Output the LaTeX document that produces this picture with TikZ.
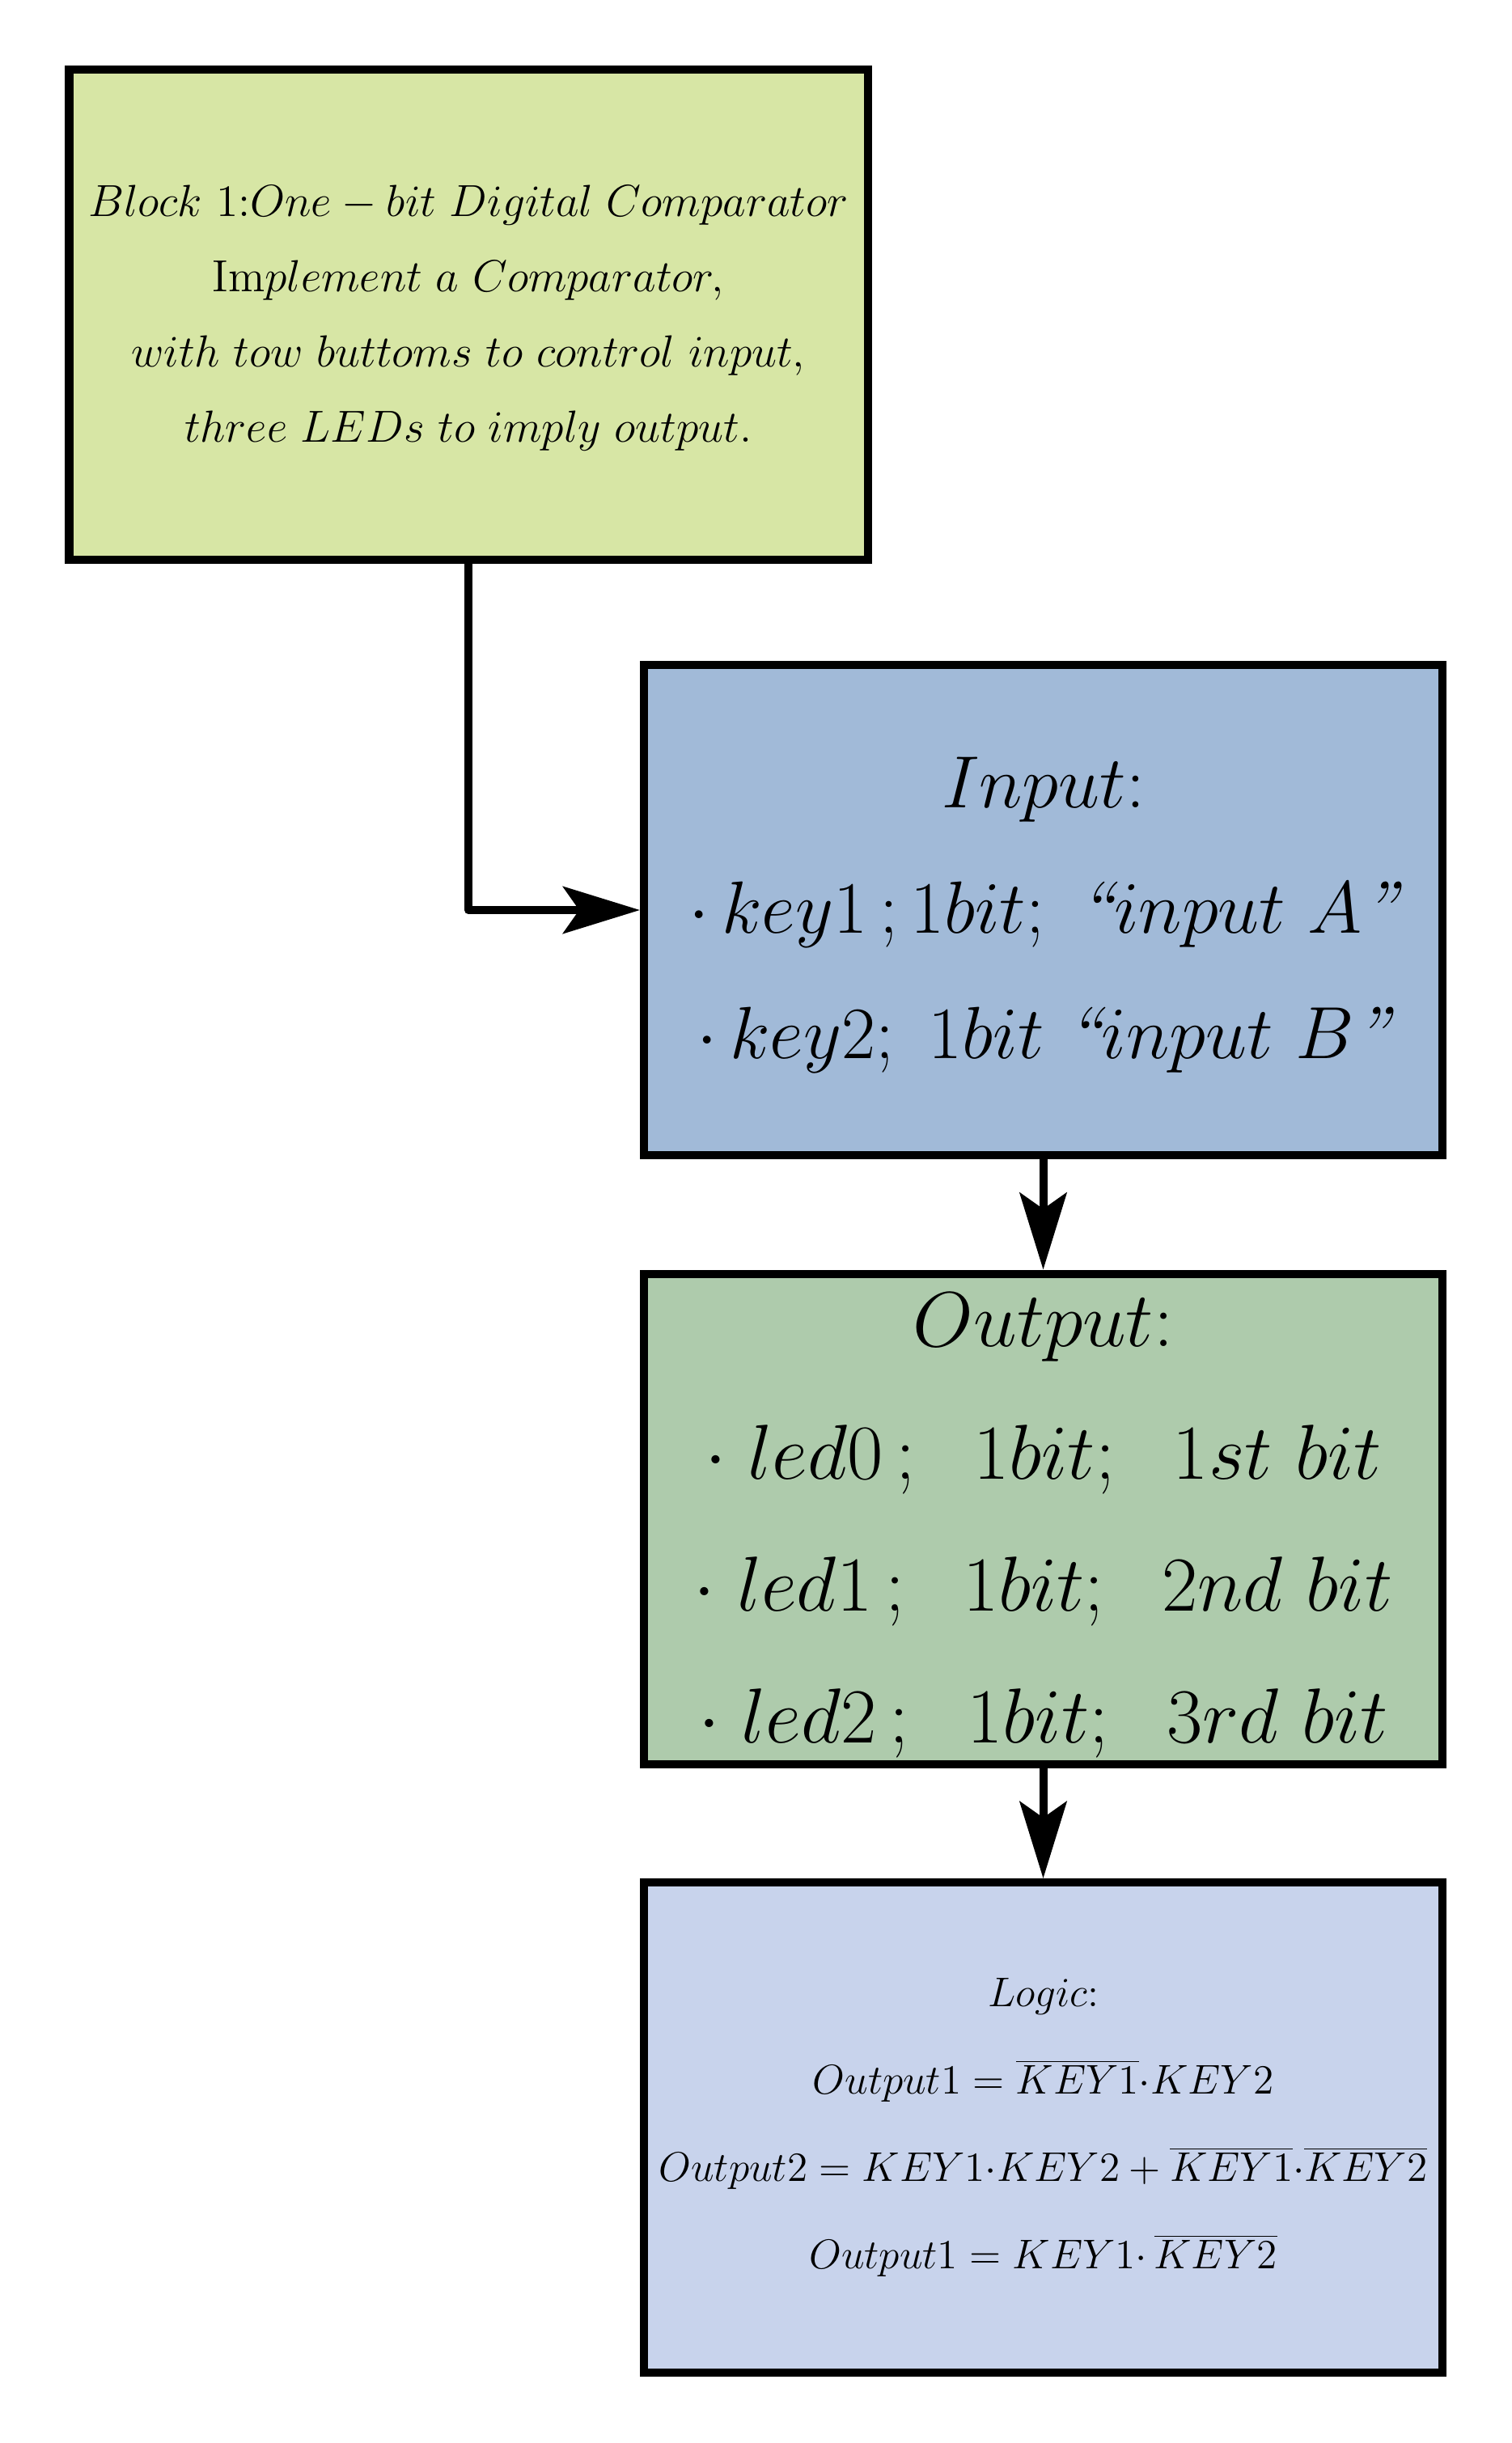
\RequirePackage{fix-cm}
\documentclass[tikz,border=0pt]{standalone}
\usetikzlibrary{positioning,arrows.meta}
\definecolor{blockgreen}{RGB}{215,230,165}
\definecolor{inblue}{RGB}{161,186,216}
\definecolor{outgreen}{RGB}{174,203,172}
\definecolor{logicblue}{RGB}{200,211,236}
\tikzset{
 box/.style={draw,line width=2.85pt,rectangle,minimum width=9.87cm,minimum height=6.06cm,align=center,inner sep=0pt},
 line/.style={line width=2.85pt,line join=round,-{Stealth[length=9.5mm,width=5.8mm,inset=2mm]}}
}
\begin{document}
\begin{tikzpicture}
 \useasboundingbox (0,0) rectangle (18.68,-30.20);
 \node[box,fill=blockgreen,font=\fontsize{15.8}{26.5}\selectfont](block) at (5.79,-3.89)
  {\rule{0pt}{13.3pt}$Block\ 1{:}One-bit\ Digital\ Comparator$\\
   $\mathrm{Im}plement\ a\ Comparator,$\\
   $with\ tow\ buttoms\ to\ control\ input,$\\
   $three\ LEDs\ to\ imply\ output.$};
 \node[box,fill=inblue,font=\fontsize{26}{44}\selectfont](input) at (12.895,-11.25)
  {\rule{0pt}{21.2pt}$Input{:}$\\
   $\cdot\, key1\,;1bit;\ \textit{``}input\ A\mbox{\itshape''}$\\
   $\cdot\, key2;\ 1bit\ \textit{``}input\ B\mbox{\itshape''}$};
 \node[box,fill=outgreen,font=\fontsize{27.4}{46.5}\selectfont,below=1.365cm of input](output)
  {\rule{0pt}{23.7pt}$Output{:}$\\
   $\cdot\;led0\,;\ \;1bit;\ \;1st\ bit$\\
   $\cdot\;led1\,;\ \;1bit;\ \;2nd\ bit$\\
   $\cdot\;led2\,;\ \;1bit;\ \;3rd\ bit$};
 \node[box,fill=logicblue,font=\fontsize{14.6}{30.7}\selectfont,below=1.365cm of output](logic)
  {$Logic{:}$\\
   $Output1=\overline{KEY1}{\cdot}KEY2$\\
   $Output2=KEY1{\cdot}KEY2+\overline{KEY1}{\cdot}\overline{KEY2}$\\
   $Output1=KEY1{\cdot}\,\overline{KEY2}$};
 \draw[line] (block) |- (input);
 \draw[line] (input) -- (output);
 \draw[line] (output) -- (logic);
\end{tikzpicture}
\end{document}
